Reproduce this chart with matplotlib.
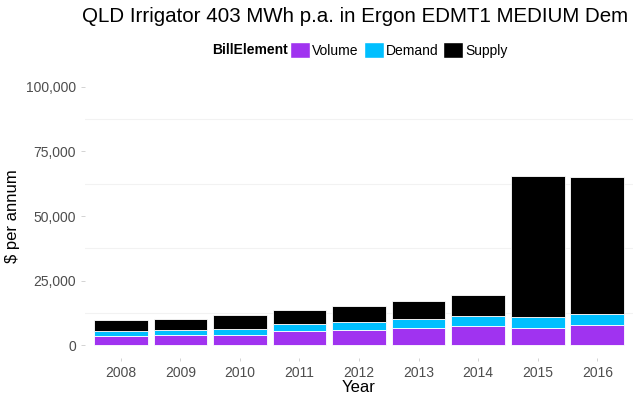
import matplotlib.pyplot as plt
import numpy as np
from matplotlib.patches import Patch
from matplotlib.ticker import FuncFormatter, MultipleLocator

plt.rcParams['font.family'] = ['Liberation Sans', 'DejaVu Sans']

# annual bill components ($ per annum)
years = ["2008", "2009", "2010", "2011", "2012", "2013", "2014", "2015", "2016"]
volume = [3600, 3750, 4000, 5300, 5800, 6700, 7500, 6700, 7750]
demand = [1700, 1950, 2300, 2700, 3000, 3300, 3600, 4000, 4250]
supply = [4400, 4400, 5200, 5400, 6300, 7000, 8300, 54700, 53000]

elements = ["Volume", "Demand", "Supply"]
colors = ["#A033F0", "#00BFFF", "#000000"]

W, H = 635, 396
fig = plt.figure(figsize=(W / 100, H / 100), dpi=100)
ax = fig.add_axes([85 / W, 1 - 358 / H, (633 - 85) / W, (358 - 74) / H])

# stacked bars
x_pos = np.arange(len(years))
bottom = np.zeros(len(years))
for values, color in zip([volume, demand, supply], colors):
    ax.bar(x_pos, values, width=0.9, bottom=bottom, color=color,
           edgecolor="white", linewidth=0.6)
    bottom += np.array(values)

ax.set_xlim(-0.6, len(years) - 1 + 0.6)
ax.set_ylim(-5000, 105000)
ax.set_xticks(x_pos)
ax.set_xticklabels(years)
ax.yaxis.set_major_locator(MultipleLocator(25000))
ax.yaxis.set_minor_locator(MultipleLocator(12500))
ax.yaxis.set_major_formatter(FuncFormatter(lambda v, p: "{:,.0f}".format(v)))

# faint grid on the minor breaks only
for yv in [12500, 37500, 62500, 87500]:
    ax.axhline(yv, color="#f2f2f2", linewidth=0.8, zorder=0)

for side in ["top", "right", "left", "bottom"]:
    ax.spines[side].set_visible(False)
ax.tick_params(axis="both", which="major", colors="#cccccc", labelcolor="#4d4d4d",
               labelsize=10, length=3, width=0.6)
ax.tick_params(axis="y", which="minor", length=0)
ax.tick_params(axis="x", length=2)

ax.set_xlabel("Year", fontsize=12, labelpad=0)
ax.set_ylabel("$ per annum", fontsize=12, labelpad=4)

fig.text(82 / W, 1 - 17 / H, "QLD Irrigator 403 MWh p.a. in Ergon EDMT1 MEDIUM Dem",
         fontsize=14.8, ha="left", va="center")

# legend on top
fig.text(212 / W, 1 - 50 / H, "BillElement", fontsize=10, fontweight="bold",
         ha="left", va="center")
handles = [Patch(facecolor=c, edgecolor="white", label=e) for e, c in zip(elements, colors)]
fig.legend(handles=handles, ncol=3, loc="center left",
           bbox_to_anchor=(290 / W, 1 - 50 / H), frameon=False, fontsize=10,
           handlelength=1.45, handleheight=1.45, handletextpad=0.15,
           columnspacing=0.35, borderpad=0, borderaxespad=0)

fig.savefig("out.png", dpi=100)
